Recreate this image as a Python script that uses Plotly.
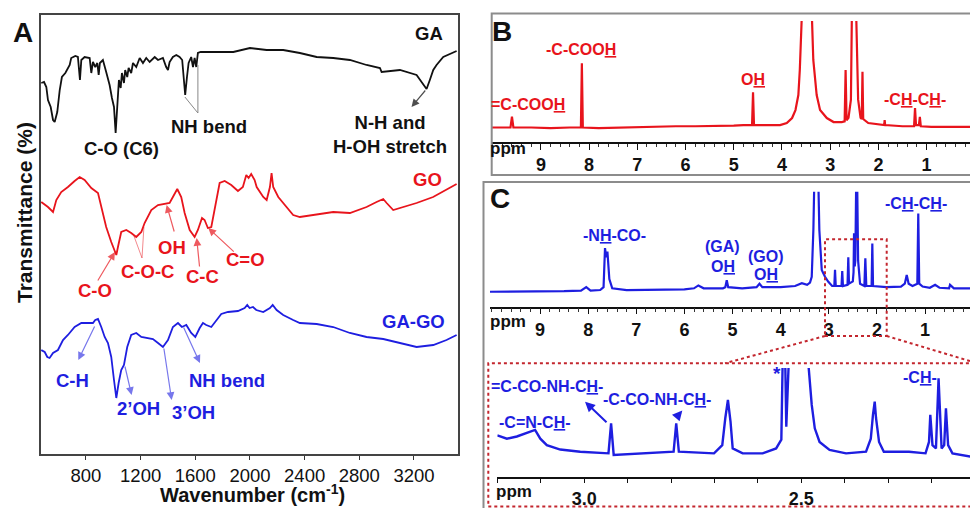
import plotly.graph_objects as go

W, H = 970, 508
FONT = "Arial, 'Liberation Sans', Helvetica, sans-serif"
RED = "#e8141c"
BLUE = "#1e1ee0"
BLACK = "#111111"
DOTRED = "#c3262e"

# ---------------- Panel A : FTIR ----------------
ftir_ticks = [800, 1200, 1600, 2000, 2400, 2800, 3200]

ga_wavenumber = [473, 493, 510, 522, 542, 559, 571, 590, 608, 624, 649, 681, 692, 722, 741, 756, 766, 790, 827, 839,
                 851, 868, 883, 893, 902, 924, 948, 973, 990, 1005, 1017, 1029, 1041, 1054, 1063, 1078, 1087, 1102,
                 1112, 1131, 1144, 1168, 1193, 1217, 1241, 1266, 1303, 1327, 1363, 1387, 1400, 1412, 1436, 1461,
                 1485, 1504, 1515, 1526, 1539, 1551, 1570, 1583, 1595, 1607, 1619, 1639, 1878, 2000, 2122, 2243,
                 2365, 2488, 2609, 2731, 2853, 2951, 2963, 3097, 3219, 3256, 3292, 3316, 3341, 3365, 3414, 3512]
ga_transmittance = [371, 372, 367, 354, 347, 334, 332, 342, 364, 377, 381, 389, 396, 398, 397, 374, 394, 397, 396, 381,
                    392, 387, 391, 379, 391, 394, 382, 369, 356, 347, 321, 354, 374, 366, 381, 371, 384, 377,
                    386, 381, 391, 387, 396, 391, 396, 392, 397, 394, 396, 387, 384, 392, 397, 399,
                    397, 394, 377, 359, 377, 391, 397, 387, 396, 387, 401, 402, 402, 406, 404, 404,
                    401, 397, 396, 394, 389, 386, 382, 384, 379, 372, 365, 374, 384, 389, 397, 403]

go_wavenumber = [473, 522, 559, 583, 619, 668, 717, 754, 790, 839, 888, 912, 948, 985, 1010, 1022, 1034, 1058, 1095,
                 1131, 1168, 1205, 1229, 1278, 1327, 1376, 1412, 1436, 1468, 1497, 1522, 1559, 1595, 1619, 1649,
                 1668, 1692, 1717, 1753, 1778, 1815, 1863, 1912, 1948, 1973, 1990, 2009, 2034, 2049, 2097, 2122,
                 2146, 2158, 2170, 2207, 2268, 2316, 2365, 2609, 2731, 2853, 2926, 2975, 3000, 3048, 3219, 3340, 3512]
go_transmittance = [252, 247, 242, 254, 262, 267, 273, 277, 274, 266, 261, 247, 227, 212, 204, 199, 207, 222, 224,
                    221, 217, 222, 231, 244, 249, 250, 251, 257, 265, 257, 241, 224, 217, 224, 236,
                    234, 226, 227, 251, 271, 273, 269, 263, 267, 279, 276, 280, 274, 267, 257, 254,
                    267, 281, 267, 257, 247, 239, 237, 242, 241, 247, 252, 255, 251, 244, 251, 257, 270]

gago_wavenumber = [473, 498, 517, 534, 559, 595, 632, 668, 717, 766, 815, 851, 868, 888, 912, 937, 961, 985, 1005,
                   1022, 1039, 1058, 1078, 1102, 1131, 1168, 1205, 1254, 1290, 1327, 1363, 1400, 1436, 1473, 1502,
                   1534, 1570, 1600, 1632, 1656, 1680, 1717, 1753, 1790, 1839, 1912, 1961, 1980, 1997, 2022, 2046,
                   2097, 2146, 2166, 2195, 2243, 2316, 2365, 2488, 2609, 2731, 2853, 2975, 3097, 3219, 3341, 3438, 3512]
gago_transmittance = [104, 102, 97, 96, 101, 104, 114, 119, 127, 131, 131, 131, 134, 135, 127, 117, 111, 97, 74,
                      56, 71, 84, 89, 107, 119, 121, 117, 116, 115, 111, 107, 114, 127, 131, 127,
                      129, 121, 117, 126, 131, 129, 127, 134, 140, 142, 143, 146, 149, 146, 147, 144,
                      142, 146, 149, 144, 139, 134, 131, 130, 127, 121, 117, 115, 111, 107, 109, 114, 119]

# ---------------- Panel B : 1H NMR (GO) ----------------
ppm_ticks = [1, 2, 3, 4, 5, 6, 7, 8, 9]
b_ppm = [10.02, 9.8, 9.63, 9.6, 9.57, 9.2, 8.8, 8.4, 8.17, 8.15, 8.13, 7.8, 7.4, 7.0, 6.6, 6.2, 5.8, 5.4, 5.0, 4.8,
         4.62, 4.6, 4.58, 4.3, 4.04, 3.9, 3.79, 3.72, 3.66, 3.63, 3.59, 3.48, 3.38, 3.35, 3.28, 3.21, 3.07, 2.93,
         2.76, 2.70, 2.68, 2.66, 2.62, 2.57, 2.55, 2.50, 2.46, 2.42, 2.37, 2.345, 2.33, 2.315, 2.21, 1.94, 1.88,
         1.87, 1.86, 1.5, 1.26, 1.24, 1.22, 1.16, 1.14, 1.12, 0.9, 0.5, 0.1]
b_intensity = [12, 12, 12, 21, 12, 12, 11.5, 12, 12, 65, 12, 11.5, 12, 12, 12.5, 13, 13, 13, 13.5, 14,
               14, 41, 14, 14, 14, 15.7, 19.8, 26.4, 38.8, 59.5, 105, 220, 105, 67.8, 38.8, 26.4, 19.8, 16.5,
               16.5, 17, 59.5, 18, 20, 35, 105, 220, 105, 35, 20, 19, 58, 19, 15.7, 14, 14,
               18, 14, 13, 13, 28, 14, 14, 20.7, 13, 12.5, 12.5, 12.5]

# ---------------- Panel C : 1H NMR (GA-GO) ----------------
c_ppm = [10.04, 9.5, 9.0, 8.5, 8.15, 8.04, 7.95, 7.75, 7.68, 7.65, 7.625, 7.60, 7.56, 7.5, 7.2, 6.8, 6.4, 6.0, 5.8,
         5.71, 5.6, 5.2, 5.15, 5.12, 5.09, 4.8, 4.5, 4.44, 4.38, 4.0, 3.7, 3.56, 3.45, 3.39, 3.354, 3.32, 3.30,
         3.26, 3.217, 3.196, 3.146, 3.078, 3.009, 2.93, 2.885, 2.87, 2.855, 2.735, 2.72, 2.705, 2.61, 2.594,
         2.58, 2.50, 2.485, 2.475, 2.46, 2.448, 2.43, 2.42, 2.41, 2.39, 2.35, 2.26, 2.24, 2.22, 2.11, 2.095,
         2.08, 1.8, 1.5, 1.42, 1.38, 1.34, 1.26, 1.16, 1.14, 1.12, 1.05, 0.9, 0.79, 0.7, 0.5, 0.48, 0.4, 0.06]
c_intensity = [13, 13, 13.5, 13.5, 14, 17, 14, 14.5, 17, 51, 43, 48, 24, 16, 14.5, 14.5, 15, 15, 16,
               18.5, 16, 16, 17, 23, 17, 16, 17, 20, 17, 17, 18, 20.5, 19, 21, 26, 66.7, 110,
               200, 110, 66.7, 32, 26, 21.7, 18, 18, 32, 18, 18, 31, 18, 19, 43,
               20, 22, 30, 63.8, 35, 40, 110, 150, 110, 40, 20, 18, 42, 18, 18, 55,
               18, 17, 17.5, 20, 27.5, 20, 18, 20, 81, 20, 17.5, 16.5, 19, 16.5, 16, 19, 16, 16]

# expanded region 3.2 - 2.1 ppm
inset_ticks = [3.2, 3.1, 3.0, 2.9, 2.8, 2.7, 2.6, 2.5, 2.4, 2.3, 2.2]
inset_ticktext = ["", "", "<b>3.0</b>", "", "", "", "", "<b>2.5</b>", "", "", ""]
ci_ppm = [3.2, 3.178, 3.155, 3.132, 3.113, 3.101, 3.086, 3.055, 3.009, 2.944, 2.938, 2.932, 2.855, 2.794, 2.788,
          2.782, 2.701, 2.682, 2.675, 2.669, 2.663, 2.658, 2.635, 2.589, 2.558, 2.546, 2.543, 2.540, 2.537, 2.5346,
          2.529, 2.505, 2.484, 2.476, 2.469, 2.458, 2.435, 2.397, 2.351, 2.340, 2.335, 2.331, 2.328, 2.321, 2.310,
          2.252, 2.214, 2.206, 2.203, 2.198, 2.190, 2.184, 2.177, 2.171, 2.167, 2.162, 2.152, 2.11]
ci_intensity = [38, 35, 37, 40, 43, 35, 29, 25, 23, 21.5, 49, 20, 21.5, 23, 49,
                23, 21.5, 29, 54, 70.6, 50.6, 26, 21.5, 21.5, 26, 34, 105, 130, 105, 46,
                105, 300, 105, 66, 44.5, 32, 24.6, 21.5, 23, 35, 57, 69, 54, 32, 23,
                23, 21.5, 32, 57, 29, 26, 90.5, 26, 29, 63, 29, 21.5, 18.4]


def PX(x):
    return x / W


def PY(y):
    return 1 - y / H


fig = go.Figure()
fig.add_trace(go.Scatter(x=ga_wavenumber, y=ga_transmittance, mode="lines",
                         line=dict(color=BLACK, width=1.8), xaxis="x", yaxis="y"))
fig.add_trace(go.Scatter(x=go_wavenumber, y=go_transmittance, mode="lines",
                         line=dict(color=RED, width=1.8), xaxis="x", yaxis="y"))
fig.add_trace(go.Scatter(x=gago_wavenumber, y=gago_transmittance, mode="lines",
                         line=dict(color=BLUE, width=1.8), xaxis="x", yaxis="y"))
fig.add_trace(go.Scatter(x=b_ppm, y=b_intensity, mode="lines",
                         line=dict(color=RED, width=2.2), xaxis="x2", yaxis="y2"))
fig.add_trace(go.Scatter(x=c_ppm, y=c_intensity, mode="lines",
                         line=dict(color=BLUE, width=2.2), xaxis="x3", yaxis="y3"))
fig.add_trace(go.Scatter(x=ci_ppm, y=ci_intensity, mode="lines",
                         line=dict(color=BLUE, width=2.4), xaxis="x4", yaxis="y4"))

annotations = []


def label(x, y, text, color=BLACK, size=18, **kw):
    a = dict(x=PX(x), y=PY(y), xref="paper", yref="paper", text="<b>" + text + "</b>",
             showarrow=False, font=dict(family=FONT, size=size, color=color),
             xanchor="center", yanchor="middle")
    a.update(kw)
    annotations.append(a)


def arrow(x, y, ax, ay, color, xref="x", yref="y", width=1.2, size=1.3):
    annotations.append(dict(x=x, y=y, xref=xref, yref=yref, ax=ax, ay=ay, text="",
                            showarrow=True, arrowhead=2, arrowsize=size, arrowwidth=width,
                            arrowcolor=color))


# panel letters
label(23, 32, "A", size=28)
label(502, 31, "B", size=28)
label(500, 199, "C", size=28)

# panel A texts
FA = 18.5
label(429, 34, "GA", BLACK, FA)
label(121, 149, "C-O (C6)", BLACK, FA)
label(209, 126, "NH bend", BLACK, FA)
label(390, 134, "N-H and<br>H-OH stretch", BLACK, FA)
label(427, 179, "GO", RED, FA)
label(172, 247, "OH", RED, FA)
label(245, 259, "C=O", RED, FA)
label(202, 276, "C-C", RED, FA)
label(147, 271, "C-O-C", RED, FA)
label(95, 290, "C-O", RED, FA)
label(413, 321, "GA-GO", BLUE, FA)
label(72, 380, "C-H", BLUE, FA)
label(138, 408, "2’OH", BLUE, FA)
label(193, 412, "3’OH", BLUE, FA)
label(227, 380, "NH bend", BLUE, FA)
label(252, 507.5, "Wavenumber (cm<sup>-1</sup>)", BLACK, 20, yanchor="bottom")
label(25, 213, "Transmittance (%)", BLACK, 21, textangle=-90)

# panel A arrows (head on spectrum / label side)
arrow(3182, 347, 15, -18, "rgba(20,20,20,0.75)")
arrow(1390, 249, 8, 28, "rgba(232,20,28,0.7)")
arrow(1610, 216, 3, 30, "rgba(232,20,28,0.7)")
arrow(1695, 226, 27, 25, "rgba(232,20,28,0.7)")
arrow(1012, 202, -18, 30, "rgba(232,20,28,0.7)")
arrow(744, 94, 17, -35, "rgba(30,30,224,0.6)")
arrow(1134, 59, -7, -30, "rgba(30,30,224,0.6)")
arrow(1427, 54, -8, -53, "rgba(30,30,224,0.6)")
arrow(1634, 91, -17, -37, "rgba(30,30,224,0.6)")

# panel B texts
FN = 16
label(581, 49, "-C-COO<u>H</u>", RED, FN)
label(528, 105, "=C-COO<u>H</u>", RED, FN)
label(753, 80, "O<u>H</u>", RED, FN)
label(915, 100, "-C<u>H</u>-C<u>H</u>-", RED, FN)
label(508, 149, "ppm", BLACK, 17)

# panel C texts
label(614, 235, "-N<u>H</u>-CO-", BLUE, FN)
label(722, 246, "(GA)", BLUE, FN)
label(723, 266, "O<u>H</u>", BLUE, FN)
label(766, 256, "(GO)", BLUE, FN)
label(766, 274, "O<u>H</u>", BLUE, FN)
label(916, 204, "-C<u>H</u>-C<u>H</u>-", BLUE, FN)
label(508, 321, "ppm", BLACK, 17)

# inset texts
label(547, 386, "=C-CO-NH-C<u>H</u>-", BLUE, FN)
label(535, 422, "-C=N-C<u>H</u>-", BLUE, FN)
label(657, 399, "-C-CO-NH-C<u>H</u>-", BLUE, FN)
label(777, 373, "*", BLUE, 19)
label(920, 377, "-C<u>H</u>-", BLUE, FN)
label(514, 491, "ppm", BLACK, 17)
arrow(2.998, 69, 23, 22, BLUE, xref="x4", yref="y4", width=2, size=1.0)
arrow(2.774, 61, -6, 7, BLUE, xref="x4", yref="y4", width=2, size=1.0)

shapes = [
    # NH bend leader lines (GA)
    dict(type="line", xref="x", yref="y", x0=1524, y0=357, x1=1619, y1=341, line=dict(color="#888", width=1)),
    dict(type="line", xref="x", yref="y", x0=1619, y0=389, x1=1619, y1=341, line=dict(color="#888", width=1)),
    # C-O-C leader lines (GO)
    dict(type="line", xref="x", yref="y", x0=1151, y0=218, x1=1210, y1=196, line=dict(color="rgba(232,20,28,0.5)", width=1)),
    dict(type="line", xref="x", yref="y", x0=1224, y0=227, x1=1210, y1=196, line=dict(color="rgba(232,20,28,0.5)", width=1)),
    # panel frames
    dict(type="rect", xref="paper", yref="paper", x0=PX(491.7), y0=PY(175), x1=PX(976), y1=PY(13.5),
         line=dict(color="#8c8c8c", width=2)),
    dict(type="rect", xref="paper", yref="paper", x0=PX(483.5), y0=PY(513), x1=PX(976), y1=PY(182),
         line=dict(color="#8c8c8c", width=2)),
    # zoom region box and expansion
    dict(type="rect", xref="paper", yref="paper", x0=PX(825), y0=PY(336), x1=PX(886.7), y1=PY(239.3),
         line=dict(color=DOTRED, width=2, dash="dot")),
    dict(type="rect", xref="paper", yref="paper", x0=PX(488.3), y0=PY(506.5), x1=PX(978), y1=PY(363.3),
         line=dict(color=DOTRED, width=2, dash="dot")),
    dict(type="line", xref="paper", yref="paper", x0=PX(825), y0=PY(336), x1=PX(725), y1=PY(363.3),
         line=dict(color=DOTRED, width=2, dash="dot")),
    dict(type="line", xref="paper", yref="paper", x0=PX(886.7), y0=PY(336), x1=PX(972), y1=PY(361.7),
         line=dict(color=DOTRED, width=2, dash="dot")),
]

ppm_axis = dict(showline=True, linecolor=BLACK, linewidth=1.5, ticks="outside", ticklen=6, tickwidth=1.3,
                tickcolor=BLACK, showgrid=False, zeroline=False,
                tickfont=dict(family=FONT, size=18, color=BLACK, weight="bold"),
                minor=dict(ticks="outside", ticklen=3.5, tickwidth=1, tickcolor="#333", dtick=0.2, tick0=0))
hidden_y = dict(visible=False, range=[0, 100], showgrid=False, zeroline=False)

fig.update_layout(
    width=W, height=H,
    margin=dict(l=0, r=0, t=0, b=0),
    paper_bgcolor="white", plot_bgcolor="rgba(0,0,0,0)",
    showlegend=False,
    font=dict(family=FONT, color=BLACK),
    xaxis=dict(domain=[PX(41), PX(458)], range=[471, 3522], anchor="y",
               tickmode="array", tickvals=ftir_ticks, ticks="outside", ticklen=4, tickcolor="#333",
               showline=True, mirror=True, linecolor="#444", linewidth=1.5, showgrid=False, zeroline=False,
               tickfont=dict(family=FONT, size=18.5, color=BLACK)),
    yaxis=dict(domain=[1 - 454 / H, 1 - 15 / H], range=[0, 439], anchor="x",
               showticklabels=False, ticks="", showline=True, mirror=True, linecolor="#444", linewidth=1.5,
               showgrid=False, zeroline=False),
    xaxis2=dict(domain=[PX(491.7), 1], range=[10.02, 0.1], anchor="y2", tickmode="array",
                tickvals=ppm_ticks, **ppm_axis),
    yaxis2=dict(domain=[1 - 142 / H, 1 - 21 / H], anchor="x2", **hidden_y),
    xaxis3=dict(domain=[PX(490), 1], range=[10.04, 0.065], anchor="y3", tickmode="array",
                tickvals=ppm_ticks, **ppm_axis),
    yaxis3=dict(domain=[1 - 306.7 / H, 1 - 191.7 / H], anchor="x3", **hidden_y),
    xaxis4=dict(domain=[PX(497.3), 1], range=[3.2, 2.1116], anchor="y4", tickmode="array",
                tickvals=inset_ticks, ticktext=inset_ticktext, showline=True, linecolor=BLACK, linewidth=1.5,
                ticks="outside", ticklen=5, tickwidth=1.3, tickcolor=BLACK, showgrid=False, zeroline=False,
                tickfont=dict(family=FONT, size=18, color=BLACK)),
    yaxis4=dict(domain=[1 - 476.7 / H, 1 - 368 / H], anchor="x4", **hidden_y),
    annotations=annotations,
    shapes=shapes,
)

# remove the default page margin so the 970x508 figure fills the window exactly
fig.write_html("out.html", config={"displayModeBar": False},
               post_script="document.body.style.margin='0';document.body.style.overflow='hidden';")
